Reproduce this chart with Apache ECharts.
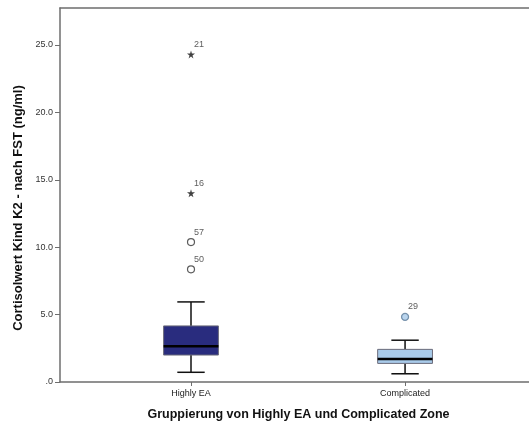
<!DOCTYPE html>
<html>
<head>
<meta charset="utf-8">
<style>
  html, body { margin: 0; padding: 0; background: #fff; }
  #chart { width: 529px; height: 426px; }
</style>
<script src="https://cdn.jsdelivr.net/npm/echarts@6/dist/echarts.min.js"></script>
</head>
<body>
<div id="chart"></div>
<script>
// Group names along the horizontal axis
const categories = ['Highly EA', 'Complicated'];

// Five-number summaries per group (ng/ml)
const whiskerLow  = [0.72, 0.61];
const quartile1   = [2.00, 1.38];
const medians     = [2.66, 1.70];
const quartile3   = [4.16, 2.42];
const whiskerHigh = [5.94, 3.10];

// Outliers (circles): group index, value, case number
const outlierGroup = [0, 0, 1];
const outlierValue = [8.36, 10.38, 4.83];
const outlierCase  = ['50', '57', '29'];

// Extreme values (stars): group index, value, case number
const extremeGroup = [0, 0];
const extremeValue = [14.0, 24.3];
const extremeCase  = ['16', '21'];

// Y axis ticks
const yTicks = [0, 5, 10, 15, 20, 25];

const boxFill = ['#292c7e', '#a9cbea'];
const font = 'Liberation Sans, Arial, sans-serif';

const boxData = categories.map((c, i) =>
  [i, whiskerLow[i], quartile1[i], medians[i], quartile3[i], whiskerHigh[i]]);

const outlierData = outlierValue.map((v, i) => ({
  value: [outlierGroup[i], v],
  name: outlierCase[i],
  itemStyle: outlierGroup[i] === 1
    ? { color: '#a9cbea', borderColor: '#5b7a98', borderWidth: 1.3 }
    : { color: '#ffffff', borderColor: '#333333', borderWidth: 1.2 }
}));

const extremeData = extremeValue.map((v, i) => ({
  value: [extremeGroup[i], v],
  name: extremeCase[i]
}));

const caseLabel = {
  show: true,
  position: 'inside',
  align: 'left',
  verticalAlign: 'middle',
  offset: [3, -10],
  formatter: p => p.name,
  fontFamily: font,
  fontSize: 9,
  color: '#333'
};

function renderBox(params, api) {
  const x = api.value(0);
  const lo = api.coord([x, api.value(1)]);
  const q1 = api.coord([x, api.value(2)]);
  const md = api.coord([x, api.value(3)]);
  const q3 = api.coord([x, api.value(4)]);
  const hi = api.coord([x, api.value(5)]);
  const unit = api.size([1, 0])[0];
  const halfBox = unit * 0.128;
  const halfCap = unit * 0.064;
  const cx = lo[0];
  const idx = params.dataIndex;
  const whisker = { stroke: '#111', lineWidth: 1.5 };
  return {
    type: 'group',
    children: [
      { type: 'line', shape: { x1: cx, y1: hi[1], x2: cx, y2: q3[1] }, style: whisker },
      { type: 'line', shape: { x1: cx, y1: q1[1], x2: cx, y2: lo[1] }, style: whisker },
      { type: 'line', shape: { x1: cx - halfCap, y1: hi[1], x2: cx + halfCap, y2: hi[1] }, style: whisker },
      { type: 'line', shape: { x1: cx - halfCap, y1: lo[1], x2: cx + halfCap, y2: lo[1] }, style: whisker },
      {
        type: 'rect',
        shape: { x: cx - halfBox, y: q3[1], width: halfBox * 2, height: q1[1] - q3[1] },
        style: { fill: boxFill[idx], stroke: '#6b6b7a', lineWidth: 1 }
      },
      {
        type: 'line',
        shape: { x1: cx - halfBox, y1: md[1], x2: cx + halfBox, y2: md[1] },
        style: { stroke: '#000', lineWidth: 2.5 }
      }
    ]
  };
}

const chart = echarts.init(document.getElementById('chart'), null, { renderer: 'canvas' });

chart.setOption({
  animation: false,
  backgroundColor: '#ffffff',
  grid: { left: 60, right: 0, top: 8, bottom: 43 },
  xAxis: [
    {
      type: 'value',
      min: -0.612,
      max: 1.579,
      splitLine: { show: false },
      axisLine: { show: true, onZero: false, lineStyle: { color: '#6e6e6e', width: 1.5 } },
      axisTick: { show: true, customValues: [0, 1], length: 4, lineStyle: { color: '#6e6e6e', width: 1 } },
      axisLabel: {
        customValues: [0, 1],
        formatter: v => categories[Math.round(v)],
        fontFamily: font, fontSize: 9, color: '#222', margin: 7
      },
      name: 'Gruppierung von Highly EA und Complicated Zone',
      nameLocation: 'middle',
      nameGap: 26,
      nameTextStyle: { fontFamily: font, fontSize: 12.5, fontWeight: 'bold', color: '#111', padding: [0, 0, 0, 8] }
    },
    {
      type: 'value',
      position: 'top',
      min: -0.612,
      max: 1.579,
      splitLine: { show: false },
      axisLine: { show: true, onZero: false, lineStyle: { color: '#6e6e6e', width: 1.5 } },
      axisTick: { show: false },
      axisLabel: { show: false }
    }
  ],
  yAxis: {
    type: 'value',
    position: 'left',
    min: 0,
    max: 27.74,
    interval: 5,
    splitLine: { show: false },
    axisLine: { show: true, onZero: false, lineStyle: { color: '#6e6e6e', width: 1.5 } },
    axisTick: { show: true, customValues: yTicks, length: 5, lineStyle: { color: '#6e6e6e', width: 1 } },
    axisLabel: {
      customValues: yTicks,
      formatter: v => (v === 0 ? '.0' : v.toFixed(1)),
      fontFamily: font, fontSize: 9, color: '#333', margin: 7
    },
    name: 'Cortisolwert Kind K2 - nach FST (ng/ml)',
    nameLocation: 'middle',
    nameGap: 23,
    nameTextStyle: { fontFamily: font, fontSize: 13, fontWeight: 'bold', color: '#111', padding: [0, 26, 0, 0] }
  },
  series: [
    {
      type: 'custom',
      name: 'box',
      renderItem: renderBox,
      encode: { x: 0, y: [1, 2, 3, 4, 5] },
      data: boxData,
      z: 2
    },
    {
      type: 'scatter',
      name: 'outliers',
      symbol: 'circle',
      symbolSize: 7,
      data: outlierData,
      label: caseLabel,
      z: 3
    },
    {
      type: 'scatter',
      name: 'extremes',
      symbol: 'path://M50,0L61,35L98,35L68,57L79,91L50,70L21,91L32,57L2,35L39,35Z',
      symbolSize: 8,
      itemStyle: { color: '#111' },
      data: extremeData,
      label: caseLabel,
      z: 3
    }
  ]
});
</script>
</body>
</html>
